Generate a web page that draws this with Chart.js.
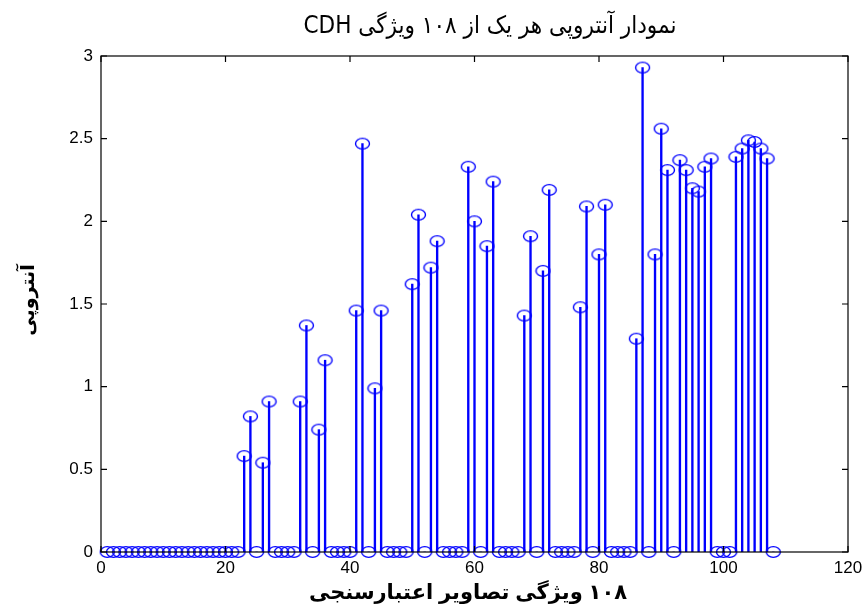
<!DOCTYPE html>
<html>
<head>
<meta charset="utf-8">
<script src="https://cdn.jsdelivr.net/npm/chart.js@4/dist/chart.umd.min.js"></script>
<style>
  html, body { margin: 0; padding: 0; background: #fff; }
  #wrap { width: 864px; height: 608px; }
</style>
</head>
<body>
<div id="wrap"><canvas id="myChart"></canvas></div>
<script>
// texts
const titleText = 'نمودار آنتروپی هر یک از ۱۰۸ ویژگی CDH';
const xLabelText = '۱۰۸ ویژگی تصاویر اعتبارسنجی';
const yLabelText = 'آنتروپی';

// feature number 1..108
const featureIndex = [
  1, 2, 3, 4, 5, 6, 7, 8, 9, 10, 11, 12, 13, 14, 15, 16, 17, 18,
  19, 20, 21, 22, 23, 24, 25, 26, 27, 28, 29, 30, 31, 32, 33, 34, 35, 36,
  37, 38, 39, 40, 41, 42, 43, 44, 45, 46, 47, 48, 49, 50, 51, 52, 53, 54,
  55, 56, 57, 58, 59, 60, 61, 62, 63, 64, 65, 66, 67, 68, 69, 70, 71, 72,
  73, 74, 75, 76, 77, 78, 79, 80, 81, 82, 83, 84, 85, 86, 87, 88, 89, 90,
  91, 92, 93, 94, 95, 96, 97, 98, 99, 100, 101, 102, 103, 104, 105, 106, 107, 108
];

// entropy of each feature
const entropy = [
  0, 0, 0, 0, 0, 0, 0, 0, 0, 0, 0, 0, 0, 0, 0, 0, 0, 0,
  0, 0, 0, 0, 0.58, 0.82, 0, 0.54, 0.91, 0, 0, 0, 0, 0.91, 1.37, 0, 0.74, 1.16,
  0, 0, 0, 0, 1.46, 2.47, 0, 0.99, 1.46, 0, 0, 0, 0, 1.62, 2.04, 0, 1.72, 1.88,
  0, 0, 0, 0, 2.33, 2.00, 0, 1.85, 2.24, 0, 0, 0, 0, 1.43, 1.91, 0, 1.70, 2.19,
  0, 0, 0, 0, 1.48, 2.09, 0, 1.80, 2.10, 0, 0, 0, 0, 1.29, 2.93, 0, 1.80, 2.56,
  2.31, 0, 2.37, 2.31, 2.20, 2.18, 2.33, 2.38, 0, 0, 0, 2.39, 2.44, 2.49, 2.48, 2.44, 2.38, 0
];

const xTicks = [0, 20, 40, 60, 80, 100, 120];
const yTicks = [0, 0.5, 1, 1.5, 2, 2.5, 3];

const stemPoints = featureIndex.map((f, i) => ({ x: f, y: entropy[i] }));

// hollow ellipse marker like the matlab stem circles
const marker = document.createElement('canvas');
marker.width = 17;
marker.height = 14;
(function () {
  const c = marker.getContext('2d');
  c.strokeStyle = '#0000ff';
  c.lineWidth = 1.4;
  c.beginPath();
  c.ellipse(8.5, 7, 7.0, 5.4, 0, 0, Math.PI * 2);
  c.stroke();
})();

// box + inward ticks + titles
const matlabAxes = {
  id: 'matlabAxes',
  afterDraw(chart) {
    const ctx = chart.ctx;
    const a = chart.chartArea;
    const xs = chart.scales.x, ys = chart.scales.y;
    ctx.save();
    ctx.strokeStyle = '#000';
    ctx.lineWidth = 1.2;
    ctx.strokeRect(a.left, a.top, a.right - a.left, a.bottom - a.top);
    ctx.beginPath();
    xTicks.forEach(v => {
      const px = xs.getPixelForValue(v);
      ctx.moveTo(px, a.bottom); ctx.lineTo(px, a.bottom - 6);
      ctx.moveTo(px, a.top); ctx.lineTo(px, a.top + 6);
    });
    yTicks.forEach(v => {
      const py = ys.getPixelForValue(v);
      ctx.moveTo(a.left, py); ctx.lineTo(a.left + 6, py);
      ctx.moveTo(a.right, py); ctx.lineTo(a.right - 6, py);
    });
    ctx.stroke();

    ctx.fillStyle = '#000';
    ctx.direction = 'rtl';
    ctx.textAlign = 'center';
    ctx.textBaseline = 'middle';
    ctx.font = '24px "Liberation Sans Narrow", "DejaVu Sans Condensed", "DejaVu Sans"';
    ctx.fillText(titleText, 490, 27);

    ctx.font = 'bold 21px "Liberation Sans", "DejaVu Sans"';
    ctx.fillText(xLabelText, 468, 593);

    ctx.translate(29, 300);
    ctx.rotate(-Math.PI / 2);
    ctx.font = 'bold 19px "Liberation Sans", "DejaVu Sans"';
    ctx.fillText(yLabelText, 0, 0);
    ctx.restore();
  }
};

const config = {
  type: 'bar',
  data: {
    datasets: [{
      type: 'bar',
      data: stemPoints,
      backgroundColor: '#0000ff',
      borderWidth: 0,
      barThickness: 1.7,
      grouped: false
    }, {
      type: 'line',
      data: stemPoints,
      showLine: false,
      pointStyle: marker,
      pointRadius: 6,
      clip: false
    }]
  },
  options: {
    responsive: false,
    animation: false,
    layout: { padding: { top: 56, right: 16, left: 0, bottom: 0 } },
    plugins: {
      legend: { display: false },
      tooltip: { enabled: false }
    },
    scales: {
      x: {
        type: 'linear',
        min: 0,
        max: 120,
        offset: false,
        afterBuildTicks: s => { s.ticks = xTicks.map(v => ({ value: v })); },
        afterFit: s => { s.height = 56; s.paddingLeft = 0; s.paddingRight = 0; },
        grid: { display: false, drawTicks: false, offset: false },
        border: { display: false },
        ticks: {
          padding: 6,
          color: '#000',
          font: { family: '"Liberation Sans", Arial', size: 17 },
          maxRotation: 0,
          callback: v => String(v)
        }
      },
      y: {
        type: 'linear',
        min: 0,
        max: 3,
        afterBuildTicks: s => { s.ticks = yTicks.map(v => ({ value: v })); },
        afterFit: s => { s.width = 101; s.paddingTop = 0; s.paddingBottom = 0; },
        grid: { display: false, drawTicks: false },
        border: { display: false },
        ticks: {
          padding: 8,
          color: '#000',
          font: { family: '"Liberation Sans", Arial', size: 17 },
          callback: v => String(v)
        }
      }
    }
  },
  plugins: [matlabAxes]
};

const canvas = document.getElementById('myChart');
canvas.width = 864;
canvas.height = 608;
const myChart = new Chart(canvas, config);
</script>
</body>
</html>
